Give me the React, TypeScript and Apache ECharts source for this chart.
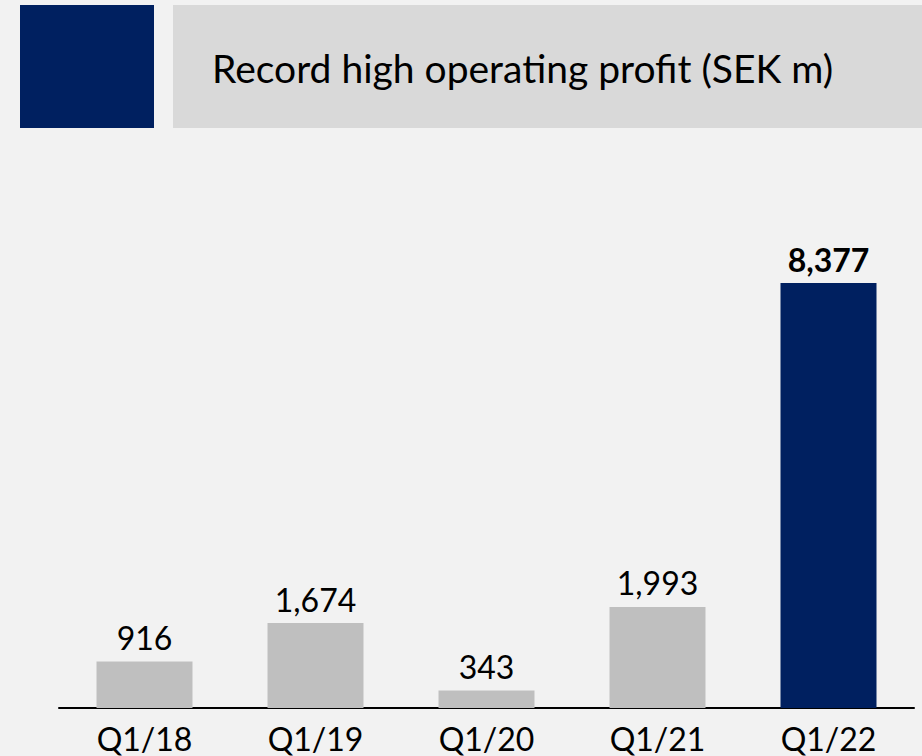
import React, { useEffect, useRef } from "react";
import * as echarts from "echarts";

const categories = ["Q1/18", "Q1/19", "Q1/20", "Q1/21", "Q1/22"];
const values = [916, 1674, 343, 1993, 8377];
const highlightIndex = 4;
const titleText = "Record high operating profit (SEK m)";

const BLUE = "#002060";
const GREY = "#bfbfbf";
const FONT = "Lato";

export default function App() {
  const ref = useRef<HTMLDivElement>(null);
  useEffect(() => {
    if (!ref.current) return;
    const chart = echarts.init(ref.current, undefined, { renderer: "svg" });
    const axisBottom = 708;
    const yMax = 10000;
    const plotH = (425 / 8377) * yMax;
    chart.setOption({
      animation: false,
      backgroundColor: "#f2f2f2",
      graphic: [
        { type: "rect", shape: { x: 20, y: 5, width: 134, height: 123 }, style: { fill: BLUE } },
        { type: "rect", shape: { x: 173, y: 5, width: 749, height: 123 }, style: { fill: "#d9d9d9" } },
        {
          type: "text",
          x: 212,
          y: 68,
          style: {
            text: titleText,
            fill: "#000",
            font: `39px ${FONT}`,
            verticalAlign: "middle",
            align: "left",
          },
        },
      ],
      grid: { left: 59, right: 8, top: axisBottom - plotH, height: plotH },
      xAxis: {
        type: "category",
        data: categories,
        axisLine: { show: true, lineStyle: { color: "#000", width: 2 } },
        axisTick: { show: false },
        axisLabel: { color: "#000", fontFamily: FONT, fontSize: 32, margin: 14 },
      },
      yAxis: {
        type: "value",
        min: 0,
        max: yMax,
        show: false,
        splitLine: { show: false },
      },
      series: [
        {
          type: "bar",
          barWidth: 96,
          data: values.map((v, i) => ({
            value: v,
            itemStyle: { color: i === highlightIndex ? BLUE : GREY },
            label: {
              fontWeight: i === highlightIndex ? "bold" : "normal",
            },
          })),
          label: {
            show: true,
            position: "top",
            distance: 8,
            color: "#000",
            fontFamily: FONT,
            fontSize: 32,
            formatter: (p: any) => p.value.toLocaleString("en-US"),
          },
        },
      ],
    });
    return () => chart.dispose();
  }, []);
  return (
    <div
      ref={ref}
      style={{ position: "fixed", left: 0, top: 0, width: 922, height: 756 }}
    />
  );
}
